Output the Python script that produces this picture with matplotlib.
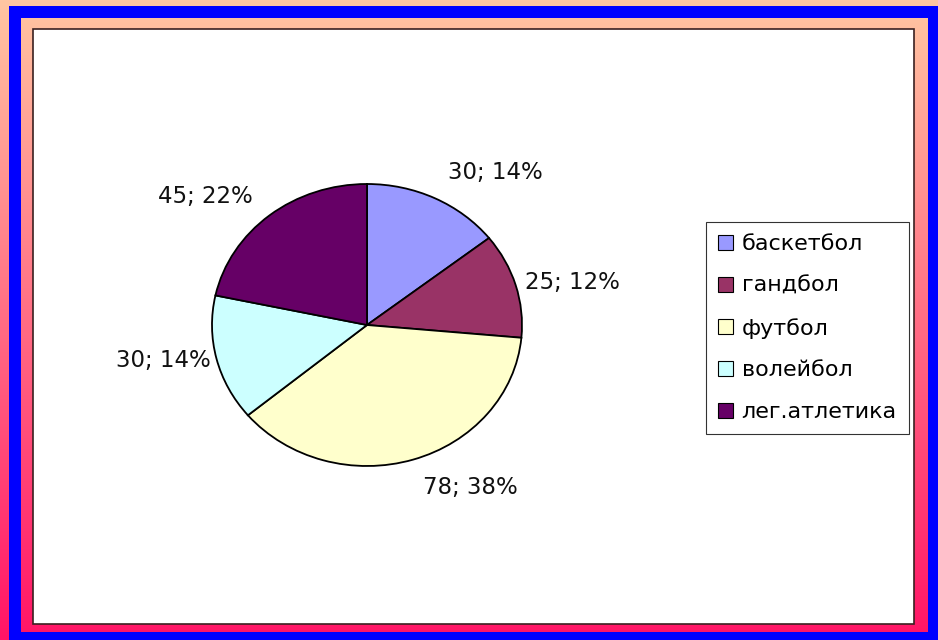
import numpy as np
import matplotlib
matplotlib.use("Agg")
import matplotlib.pyplot as plt
from matplotlib.patches import Rectangle
from matplotlib.colors import LinearSegmentedColormap

categories = ["баскетбол", "гандбол", "футбол", "волейбол", "лег.атлетика"]
values = [30, 25, 78, 30, 45]
colors = ["#9999FF", "#993366", "#FFFFCC", "#CCFFFF", "#660066"]
label_dist = [1.2, 1.06, 1.21, 1.04, 1.17]

W, H = 938, 640
fig = plt.figure(figsize=(W / 100, H / 100), dpi=100)

# background
bg = fig.add_axes([0, 0, 1, 1])
bg.set_xlim(0, W)
bg.set_ylim(H, 0)
bg.axis("off")
cmap = LinearSegmentedColormap.from_list("g", ["#FFC6A2", "#FF1466"])
grad = np.linspace(0, 1, 256).reshape(-1, 1)
bg.imshow(grad, cmap=cmap, aspect="auto", extent=(0, W, H, 0))
blue = "#0000FF"
for (x0, y0, x1, y1) in [(9, 6, W, 18), (9, 6, 21, H), (928, 6, W, H), (9, 632, W, H)]:
    bg.add_patch(Rectangle((x0, y0), x1 - x0, y1 - y0, facecolor=blue, edgecolor="none"))
bg.add_patch(Rectangle((33, 29), 914 - 33, 624 - 29, facecolor="white",
                       edgecolor="#3a2020", linewidth=1.2))

# pie
cx, cy, rx, ry = 367, 325, 155, 141
ax = fig.add_axes([(cx - rx) / W, 1 - (cy + ry) / H, 2 * rx / W, 2 * ry / H])
wedges, _ = ax.pie(values, colors=colors, startangle=90, counterclock=False,
                   wedgeprops=dict(edgecolor="black", linewidth=1.3))
ax.set_aspect("auto")
ax.set_xlim(-1, 1)
ax.set_ylim(-1, 1)
ax.axis("off")

total = sum(values)
for w, v, r in zip(wedges, values, label_dist):
    ang = np.deg2rad((w.theta1 + w.theta2) / 2)
    x, y = r * np.cos(ang), r * np.sin(ang)
    ha = "left" if x > 0 else "right"
    ax.text(x, y, f"{v}; {round(100 * v / total)}%", ha=ha, va="center",
            fontsize=16.5, color="#111111", clip_on=False)

leg = ax.legend(wedges, categories, loc="upper left",
                bbox_to_anchor=(706 / W, 1 - 222 / H), bbox_transform=fig.transFigure,
                borderaxespad=0, fontsize=16, frameon=True, fancybox=False,
                edgecolor="black", handlelength=0.65, handleheight=0.65,
                handletextpad=0.4, labelspacing=0.98, borderpad=0.55)
leg.get_frame().set_linewidth(0.8)
for h in leg.legend_handles:
    h.set_linewidth(0.8)

fig.savefig("out.png", dpi=100)
